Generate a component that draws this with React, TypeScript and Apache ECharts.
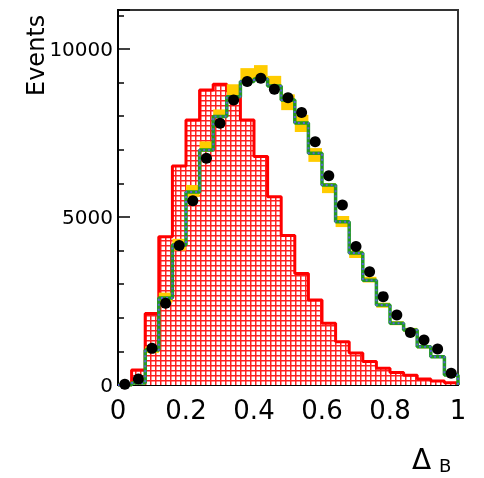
import React, { useEffect, useRef } from "react";
import * as echarts from "echarts";

// Bin edges in Δ_B
const binEdges = [0, 0.04, 0.08, 0.12, 0.16, 0.2, 0.24, 0.28, 0.32, 0.36, 0.4, 0.44, 0.48, 0.52, 0.56, 0.6, 0.64, 0.68, 0.72, 0.76, 0.8, 0.84, 0.88, 0.92, 0.96, 1];
// Red hatched histogram (signal)
const redSignal = [0, 450, 2130, 4410, 6520, 7890, 8780, 8950, 8750, 7890, 6800, 5600, 4450, 3320, 2530, 1840, 1290, 950, 700, 500, 370, 290, 180, 120, 70];
// Green MC total
const mcTotal = [0, 60, 1040, 2590, 4170, 5740, 6990, 7990, 8580, 9030, 9110, 8900, 8480, 7800, 6900, 5950, 4860, 3930, 3120, 2380, 1840, 1640, 1140, 840, 300];
// Yellow uncertainty band
const bandLo = [0, 40, 950, 2450, 4000, 5600, 6950, 7950, 8600, 9000, 9100, 8870, 8180, 7530, 6640, 5710, 4700, 3780, 3050, 2300, 1780, 1580, 1090, 800, 260];
const bandHi = [0, 100, 1150, 2750, 4350, 5950, 7250, 8200, 8950, 9430, 9520, 9200, 8650, 8040, 7050, 6010, 5030, 4000, 3220, 2450, 1900, 1700, 1190, 880, 330];
// Data points
const dataEvents = [20, 180, 1090, 2430, 4150, 5480, 6750, 7790, 8480, 9030, 9130, 8800, 8550, 8110, 7240, 6230, 5360, 4120, 3370, 2630, 2080, 1560, 1340, 1070, 350];

const yTickLabels = [0, 5000, 10000];

function stepPoints(vals: number[]): number[][] {
  const pts: number[][] = [[binEdges[0], 0]];
  vals.forEach((v, i) => {
    pts.push([binEdges[i], v]);
    pts.push([binEdges[i + 1], v]);
  });
  pts.push([binEdges[binEdges.length - 1], 0]);
  return pts;
}

export default function App() {
  const ref = useRef<HTMLDivElement>(null);
  useEffect(() => {
    if (!ref.current) return;
    const chart = echarts.init(ref.current, null, { renderer: "svg" });

    const canvas = document.createElement("canvas");
    canvas.width = 5;
    canvas.height = 5;
    const ctx = canvas.getContext("2d")!;
    ctx.fillStyle = "#ff2020";
    ctx.fillRect(0, 0, 5, 5);
    ctx.fillStyle = "#ffffff";
    ctx.fillRect(1.5, 1.5, 3.5, 3.5);

    const centers = dataEvents.map((_, i) => (binEdges[i] + binEdges[i + 1]) / 2);
    const font = "DejaVu Sans";

    chart.setOption({
      animation: false,
      grid: {
        left: 118, right: 26, top: 10, bottom: 93,
        show: true, borderColor: "#333", borderWidth: 2, backgroundColor: "transparent",
      },
      xAxis: {
        type: "value", min: 0, max: 1, interval: 0.2,
        axisLine: { show: true, lineStyle: { color: "#000", width: 2 } },
        axisTick: { show: true, inside: true, length: 10, lineStyle: { color: "#000", width: 1.5 } },
        minorTick: { show: true, splitNumber: 4, length: 5, lineStyle: { color: "#000", width: 1.5 } },
        splitLine: { show: false },
        axisLabel: { color: "#000", fontSize: 26, fontFamily: font, margin: 12 },
      },
      yAxis: {
        type: "value", min: 0, max: 11160, interval: 5000,
        axisLine: { show: true, lineStyle: { color: "#000", width: 2 } },
        axisTick: { show: true, inside: true, length: 12, lineStyle: { color: "#000", width: 1.5 } },
        minorTick: { show: true, splitNumber: 5, length: 6, lineStyle: { color: "#000", width: 1.5 } },
        splitLine: { show: false },
        axisLabel: {
          color: "#000", fontSize: 20, fontFamily: font, margin: 5,
          formatter: (v: number) => (yTickLabels.includes(v) ? String(v) : ""),
        },
      },
      graphic: [
        {
          type: "text", x: 48, y: 96, rotation: Math.PI / 2,
          style: { text: "Events", fontSize: 24, fontFamily: font, fill: "#000", textAlign: "left", textVerticalAlign: "bottom" },
        },
        {
          type: "text", x: 412, y: 445,
          style: { text: "Δ", fontSize: 28, fontFamily: font, fill: "#000", textAlign: "left", textVerticalAlign: "top" },
        },
        {
          type: "text", x: 439, y: 456,
          style: { text: "B", fontSize: 18, fontFamily: font, fill: "#000", textAlign: "left", textVerticalAlign: "top" },
        },
      ],
      series: [
        {
          type: "line", z: 1, data: stepPoints(redSignal), symbol: "none",
          lineStyle: { color: "#ff0000", width: 3 },
          areaStyle: { color: { image: canvas, repeat: "repeat" } as any, opacity: 1, origin: 0 },
        },
        {
          type: "custom", z: 2,
          data: bandLo.map((lo, i) => [binEdges[i], binEdges[i + 1], lo, bandHi[i]]),
          renderItem: (params: any, api: any) => {
            const p0 = api.coord([api.value(0), api.value(3)]);
            const p1 = api.coord([api.value(1), api.value(2)]);
            return {
              type: "rect",
              shape: { x: p0[0], y: p0[1], width: p1[0] - p0[0], height: p1[1] - p0[1] },
              style: { fill: "#ffcc00" },
            };
          },
        },
        {
          type: "line", z: 3, data: stepPoints(mcTotal), symbol: "none",
          lineStyle: { color: "#229a22", width: 3.5 },
        },
        {
          type: "line", z: 4, data: stepPoints(mcTotal), symbol: "none",
          lineStyle: { color: "#5860d8", width: 2, type: [2, 3] },
        },
        {
          type: "scatter", z: 5, data: centers.map((c, i) => [c, dataEvents[i]]),
          symbol: "circle", symbolSize: 11, itemStyle: { color: "#000", opacity: 1 },
        },
      ],
    });
    return () => chart.dispose();
  }, []);
  return <div ref={ref} style={{ position: "fixed", left: 0, top: 0, width: 484, height: 478 }} />;
}
